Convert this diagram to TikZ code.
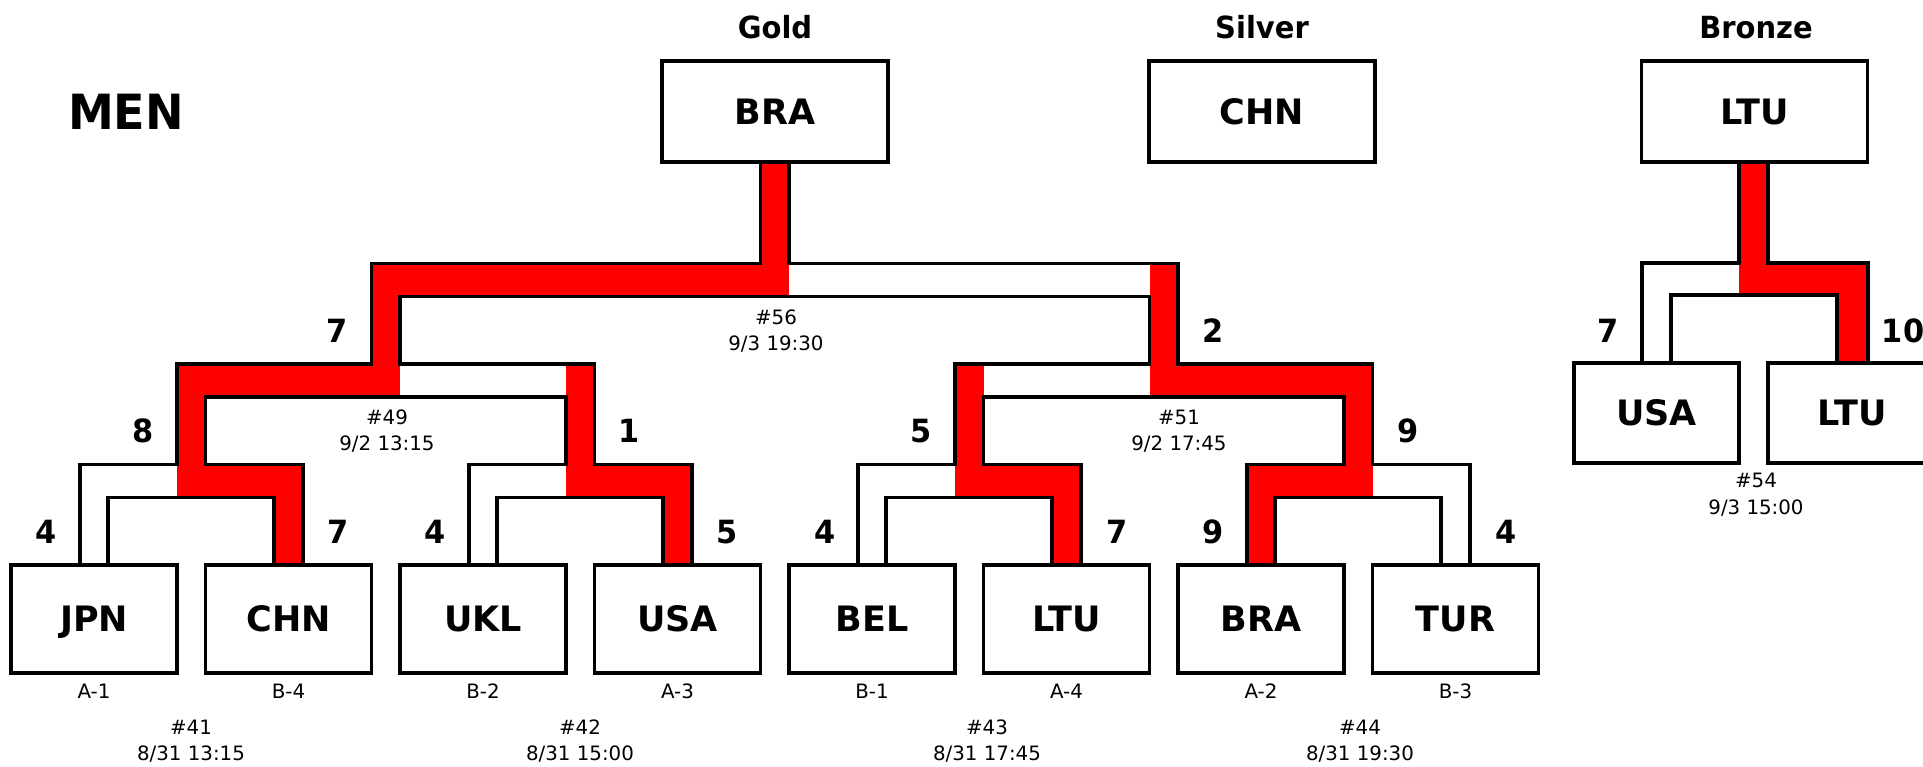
\documentclass[tikz,border=0pt]{standalone}
\usepackage{fontspec}
\setmainfont{DejaVu Sans}
\newfontfamily\dvbold[FakeStretch=0.95]{DejaVu Sans}
\newcommand\teamfnt{\bfseries\fontsize{35}{40}\selectfont}
\newcommand\scorefnt{\dvbold\bfseries\fontsize{32}{36}\selectfont}
\newcommand\headfnt{\dvbold\bfseries\fontsize{30.5}{36}\selectfont}
\newcommand\menfnt{\dvbold\bfseries\fontsize{48.5}{54}\selectfont}
\newcommand\smallfnt{\fontsize{19.8}{26}\selectfont}
\tikzset{
  bline/.style={line width=3.8pt, line join=miter, line cap=rect},
  redfill/.style={fill={rgb,255:red,255;green,0;blue,0}},
  teambox/.style={draw, line width=3.8pt, fill=white, inner sep=0pt,
    font=\teamfnt, text height=25.5pt, text depth=0pt},
  team/.style={teambox, minimum width=166pt, minimum height=108pt},
  medal/.style={teambox, minimum width=226pt, minimum height=101pt},
  bteam/.style={teambox, minimum height=100pt},
  score/.style={anchor=base, inner sep=0pt, font=\scorefnt},
  info/.style={anchor=base, inner sep=0pt, font=\smallfnt},
  head/.style={anchor=base, inner sep=0pt, font=\headfnt}
}
\begin{document}
\begin{tikzpicture}[x=1pt, y=-1pt]
\useasboundingbox[fill=white] (0,0) rectangle (1923,766);

% ---------- red winner paths ----------
% final #56
\fill[redfill] (760.5,162) rectangle (789,263.5);
\fill[redfill] (371.5,263.5) rectangle (789,296.5);
% #49
\fill[redfill] (371.5,263.5) rectangle (400,364);
\fill[redfill] (177,364) rectangle (400,397);
% #51
\fill[redfill] (1149.5,263.5) rectangle (1178,364);
\fill[redfill] (1149.5,364) rectangle (1372.5,397);
% #41
\fill[redfill] (177,364) rectangle (205.5,464.5);
\fill[redfill] (177,464.5) rectangle (302.75,497.5);
\fill[redfill] (274.25,497.5) rectangle (302.75,565);
% #42
\fill[redfill] (566,364) rectangle (594.5,464.5);
\fill[redfill] (566,464.5) rectangle (691.75,497.5);
\fill[redfill] (663.25,497.5) rectangle (691.75,565);
% #43
\fill[redfill] (955,364) rectangle (983.5,464.5);
\fill[redfill] (955,464.5) rectangle (1080.75,497.5);
\fill[redfill] (1052.25,497.5) rectangle (1080.75,565);
% #44
\fill[redfill] (1344,364) rectangle (1372.5,464.5);
\fill[redfill] (1246.75,464.5) rectangle (1372.5,497.5);
\fill[redfill] (1246.75,497.5) rectangle (1275.25,565);
% bronze #54
\fill[redfill] (1739,162) rectangle (1768,263);
\fill[redfill] (1739,263) rectangle (1868,295);
\fill[redfill] (1837,295) rectangle (1868,363);

% ---------- bracket lines ----------
\draw[bline] (79.75,565) -- (79.75,464.5) -- (177,464.5) -- (177,364) -- (371.5,364) -- (371.5,263.5) -- (760.5,263.5) -- (760.5,162);
\draw[bline] (108.25,565) -- (108.25,497.5) -- (274.25,497.5) -- (274.25,565);
\draw[bline] (302.75,565) -- (302.75,464.5) -- (205.5,464.5) -- (205.5,397) -- (566,397) -- (566,464.5) -- (468.75,464.5) -- (468.75,565);
\draw[bline] (497.25,565) -- (497.25,497.5) -- (663.25,497.5) -- (663.25,565);
\draw[bline] (691.75,565) -- (691.75,464.5) -- (594.5,464.5) -- (594.5,364) -- (400,364) -- (400,296.5) -- (1149.5,296.5) -- (1149.5,364) -- (955,364) -- (955,464.5) -- (857.75,464.5) -- (857.75,565);
\draw[bline] (886.25,565) -- (886.25,497.5) -- (1052.25,497.5) -- (1052.25,565);
\draw[bline] (1080.75,565) -- (1080.75,464.5) -- (983.5,464.5) -- (983.5,397) -- (1344,397) -- (1344,464.5) -- (1246.75,464.5) -- (1246.75,565);
\draw[bline] (1275.25,565) -- (1275.25,497.5) -- (1441.25,497.5) -- (1441.25,565);
\draw[bline] (1469.75,565) -- (1469.75,464.5) -- (1372.5,464.5) -- (1372.5,364) -- (1178,364) -- (1178,263.5) -- (789,263.5) -- (789,162);
% bronze
\draw[bline] (1642,363) -- (1642,263) -- (1739,263) -- (1739,162);
\draw[bline] (1671,363) -- (1671,295) -- (1837,295) -- (1837,363);
\draw[bline] (1768,162) -- (1768,263) -- (1868,263) -- (1868,363);

% ---------- boxes ----------
\node[team] (jpn) at (94,619) {JPN};
\node[team] (chnA) at (288.5,619) {CHN};
\node[team] (ukl) at (483,619) {UKL};
\node[team] (usaA) at (677.5,619) {USA};
\node[team] (bel) at (872,619) {BEL};
\node[team] (ltuA) at (1066.5,619) {LTU};
\node[team] (braA) at (1261,619) {BRA};
\node[team] (tur) at (1455.5,619) {TUR};

\node[medal] (gold) at (775,111.5) {BRA};
\node[medal] (silver) at (1262,111.5) {CHN};
\node[medal] (bronze) at (1754.5,111.5) {LTU};

\node[bteam, minimum width=165pt] (usaB) at (1656.5,413) {USA};
\node[bteam, minimum width=168pt] (ltuB) at (1852,413) {LTU};

% ---------- headers ----------
\node[anchor=base, inner sep=0pt, font=\menfnt] (men) at (126,129) {MEN};
\node[head] (hgold) at (775,38) {Gold};
\node[head] (hsilver) at (1262,38) {Silver};
\node[head] (hbronze) at (1756,38) {Bronze};

% ---------- scores ----------
\node[score] (s41a) at (46,543.5) {4};
\node[score] (s41b) at (338,543.5) {7};
\node[score] (s42a) at (435,543.5) {4};
\node[score] (s42b) at (727,543.5) {5};
\node[score] (s43a) at (825,543.5) {4};
\node[score] (s43b) at (1117,543.5) {7};
\node[score] (s44a) at (1213,543.5) {9};
\node[score] (s44b) at (1506,543.5) {4};
\node[score] (s49a) at (143,442.5) {8};
\node[score] (s49b) at (629,442.5) {1};
\node[score] (s51a) at (921,442.5) {5};
\node[score] (s51b) at (1408,442.5) {9};
\node[score] (s56a) at (337.5,342) {7};
\node[score] (s56b) at (1213,342) {2};
\node[score] (s54a) at (1608,342) {7};
\node[score] (s54b) at (1903,342) {10};

% ---------- seeds ----------
\node[info] (sdA) at (94,698) {A-1};
\node[info] (sdB) at (288.5,698) {B-4};
\node[info] (sdC) at (483,698) {B-2};
\node[info] (sdD) at (677.5,698) {A-3};
\node[info] (sdE) at (872,698) {B-1};
\node[info] (sdF) at (1066.5,698) {A-4};
\node[info] (sdG) at (1261,698) {A-2};
\node[info] (sdH) at (1455.5,698) {B-3};

% ---------- match info ----------
\node[info] (m41n) at (191,734) {\#41};
\node[info] (m41d) at (191,760) {8/31 13:15};
\node[info] (m42n) at (580,734) {\#42};
\node[info] (m42d) at (580,760) {8/31 15:00};
\node[info] (m43n) at (987,734) {\#43};
\node[info] (m43d) at (987,760) {8/31 17:45};
\node[info] (m44n) at (1360,734) {\#44};
\node[info] (m44d) at (1360,760) {8/31 19:30};
\node[info] (m49n) at (387,424) {\#49};
\node[info] (m49d) at (387,450) {9/2 13:15};
\node[info] (m51n) at (1179,424) {\#51};
\node[info] (m51d) at (1179,450) {9/2 17:45};
\node[info] (m56n) at (776,324) {\#56};
\node[info] (m56d) at (776,350) {9/3 19:30};
\node[info] (m54n) at (1756,487) {\#54};
\node[info] (m54d) at (1756,514) {9/3 15:00};
\end{tikzpicture}
\end{document}
